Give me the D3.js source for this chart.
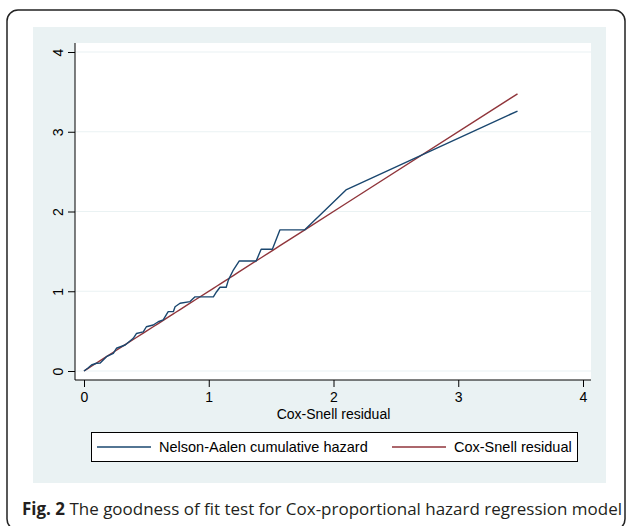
<!DOCTYPE html>
<html>
<head>
<meta charset="utf-8">
<script src="https://cdn.jsdelivr.net/npm/d3@7"></script>
<style>
  body { margin: 0; background: #fff; }
  svg { display: block; }
</style>
</head>
<body>
<div id="chart"></div>
<script>
// Cox-Snell residuals (x) and Nelson-Aalen cumulative hazard (y)
const csResidual = [0, 0.03, 0.06, 0.10, 0.13, 0.18, 0.235, 0.26, 0.33, 0.395, 0.42, 0.475, 0.50, 0.555,
  0.595, 0.635, 0.675, 0.716, 0.73, 0.77, 0.85, 0.89, 1.037, 1.063, 1.09, 1.14, 1.157, 1.197, 1.245,
  1.38, 1.42, 1.51, 1.571, 1.77, 2.10, 3.475];
const nelsonAalen = [0, 0.035, 0.075, 0.097, 0.10, 0.18, 0.22, 0.285, 0.326, 0.41, 0.47, 0.49, 0.555, 0.577,
  0.618, 0.64, 0.744, 0.744, 0.806, 0.85, 0.87, 0.93, 0.93, 0.994, 1.05, 1.05, 1.14, 1.266, 1.38,
  1.38, 1.526, 1.526, 1.77, 1.77, 2.27, 3.26];
const xTicks = [0, 1, 2, 3, 4];
const yTicks = [0, 1, 2, 3, 4];
const legendLabels = ['Nelson-Aalen cumulative hazard', 'Cox-Snell residual'];

const width = 627;
const height = 526;
const navy = '#1a476f';
const maroon = '#90353b';
const bg = '#eaf2f3';
const font = '"Liberation Sans", Arial, sans-serif';

const svg = d3.select('#chart')
  .append('svg')
  .attr('width', width)
  .attr('height', height);

// outer rounded frame
svg.append('rect')
  .attr('x', 7).attr('y', 10)
  .attr('width', 618).attr('height', 520)
  .attr('rx', 11)
  .attr('fill', '#fff')
  .attr('stroke', '#222')
  .attr('stroke-width', 1.5);

// graph region
svg.append('rect')
  .attr('x', 33).attr('y', 27)
  .attr('width', 573).attr('height', 456)
  .attr('fill', bg);

// plot region
svg.append('rect')
  .attr('x', 75).attr('y', 43)
  .attr('width', 516).attr('height', 337)
  .attr('fill', '#fff');

const x = d3.scaleLinear().domain([0, 4]).range([84, 583]);
const y = d3.scaleLinear().domain([0, 4]).range([371, 52]);

// horizontal grid
svg.append('g')
  .selectAll('line')
  .data(yTicks)
  .enter()
  .append('line')
  .attr('x1', 75).attr('x2', 591)
  .attr('y1', d => y(d)).attr('y2', d => y(d))
  .attr('stroke', bg)
  .attr('stroke-width', 1.2);

// axes
const xAxis = svg.append('g')
  .attr('transform', 'translate(0,380)')
  .call(d3.axisBottom(x).tickValues(xTicks).tickFormat(d3.format('d')).tickSize(7).tickSizeOuter(0));
xAxis.select('.domain').attr('d', 'M75,0H591').attr('stroke', '#000');

const yAxis = svg.append('g')
  .attr('transform', 'translate(75,0)')
  .call(d3.axisLeft(y).tickValues(yTicks).tickFormat(d3.format('d')).tickSize(7).tickSizeOuter(0));
yAxis.select('.domain').attr('d', 'M0,43V380').attr('stroke', '#000');

svg.selectAll('.tick line').attr('stroke', '#000');
svg.selectAll('.tick text')
  .attr('font-family', font)
  .attr('font-size', 14)
  .attr('fill', '#000');

xAxis.selectAll('.tick text').attr('dy', null).attr('y', 22);
yAxis.selectAll('.tick text')
  .attr('x', null).attr('dy', null)
  .attr('text-anchor', 'middle')
  .attr('transform', 'translate(-12,0) rotate(-90)');

// axis title
svg.append('text')
  .attr('x', x(2)).attr('y', 419)
  .attr('text-anchor', 'middle')
  .attr('font-family', font)
  .attr('font-size', 14)
  .text('Cox-Snell residual');

// lines
const points = csResidual.map((d, i) => ({ cs: d, na: nelsonAalen[i] }));

svg.append('path')
  .datum(points)
  .attr('fill', 'none')
  .attr('stroke', maroon)
  .attr('stroke-width', 1.4)
  .attr('d', d3.line().x(d => x(d.cs)).y(d => y(d.cs)));

svg.append('path')
  .datum(points)
  .attr('fill', 'none')
  .attr('stroke', navy)
  .attr('stroke-width', 1.4)
  .attr('stroke-linejoin', 'round')
  .attr('d', d3.line().x(d => x(d.cs)).y(d => y(d.na)));

// legend
const legend = svg.append('g');
legend.append('rect')
  .attr('x', 91.5).attr('y', 432.5)
  .attr('width', 486).attr('height', 29)
  .attr('fill', '#fff')
  .attr('stroke', '#000')
  .attr('stroke-width', 1);

const legendItems = [
  { label: legendLabels[0], color: navy, x0: 97 },
  { label: legendLabels[1], color: maroon, x0: 392 }
];
const item = legend.selectAll('g.item')
  .data(legendItems)
  .enter()
  .append('g')
  .attr('class', 'item');
item.append('line')
  .attr('x1', d => d.x0).attr('x2', d => d.x0 + 54)
  .attr('y1', 447).attr('y2', 447)
  .attr('stroke', d => d.color)
  .attr('stroke-width', 1.4);
item.append('text')
  .attr('x', d => d.x0 + 62).attr('y', 452)
  .attr('font-family', font)
  .attr('font-size', 14.5)
  .text(d => d.label);

// caption
const caption = svg.append('text')
  .attr('x', 22).attr('y', 515)
  .attr('font-family', '"Open Sans", "Noto Sans", sans-serif')
  .attr('font-size', 17)
  .attr('textLength', 600)
  .attr('lengthAdjust', 'spacingAndGlyphs')
  .attr('fill', '#231f20');
caption.append('tspan').attr('font-weight', 'bold').text('Fig. 2');
caption.append('tspan').text(' The goodness of fit test for Cox-proportional hazard regression model');
</script>
</body>
</html>
